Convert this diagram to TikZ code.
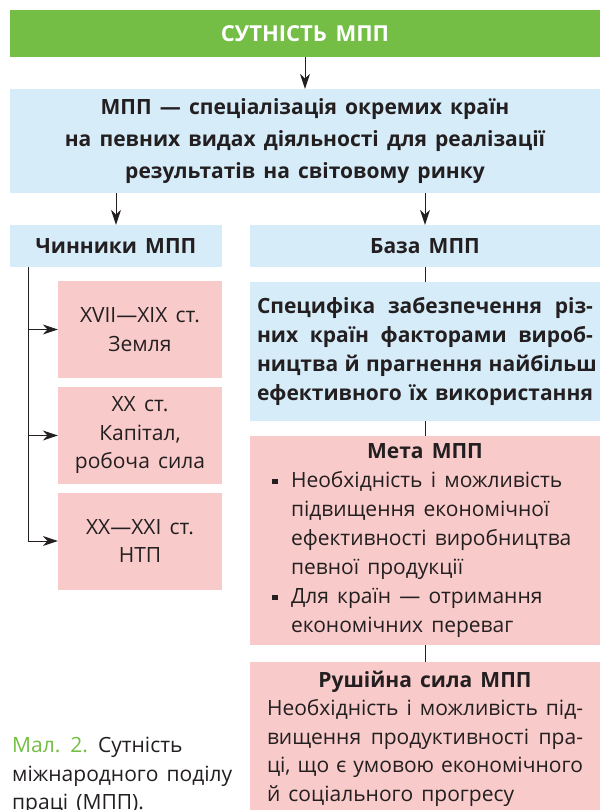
\documentclass[tikz,border=0pt]{standalone}
\usepackage{fontspec}
\setmainfont{Open Sans}[WordSpace={1.5,1.2,1}]
\usepackage{xcolor}
\usepackage{tikz}
\usetikzlibrary{positioning,calc,arrows.meta}

\definecolor{mppgreen}{RGB}{116,190,70}
\definecolor{mppblue}{RGB}{214,236,249}
\definecolor{mpppink}{RGB}{249,202,202}
\definecolor{mppdark}{RGB}{35,31,32}

\newcommand{\mppbul}{\rule[3pt]{5.5pt}{5.5pt}}
\newlength{\listw}\setlength{\listw}{306pt}
\newcommand{\itemline}[1]{\makebox[\listw][l]{\makebox[19pt][l]{\mppbul}#1}}
\newcommand{\contline}[1]{\makebox[\listw][l]{\hspace*{19pt}#1}}
\newcommand{\jline}[2]{\makebox[#1][s]{#2}}

\begin{document}
\begin{tikzpicture}[
						x=1pt, y=-1pt,
						every node/.style={inner sep=0pt, text=mppdark},
						base/.style={font=\fontsize{21}{28.5}\selectfont},
						head/.style={               % Tiêu đề xanh lá
							fill=mppgreen, text=white,
							minimum width=590, minimum height=47,
							font=\bfseries\fontsize{22}{28}\selectfont
						},
						bluebox/.style={
							base, fill=mppblue, align=center
						},
						pinkbox/.style={
							base, fill=mpppink, align=center
						},
						factor/.style={
							pinkbox, minimum width=164, minimum height=97
						},
						arr/.style={                 % Mũi tên đen
							-{Stealth[length=15pt,width=10pt]},
							draw=mppdark, line width=0.9pt
						},
						link/.style={draw=mppdark, line width=0.9pt}
						]
						\useasboundingbox (0,0) rectangle (600,810);
						
						% --- TIÊU ĐỀ ---
						\node[head] (title) at (305,33.5) {СУТНІСТЬ МПП};
						
						\node[bluebox, minimum width=590, minimum height=104,
						font=\bfseries\fontsize{21}{32}\selectfont] (def) at (305,141)
						{МПП — спеціалізація окремих країн\\
							на певних видах діяльності для реалізації\\
							результатів на світовому ринку};
						\draw[arr] (title) -- (def);
						
						% --- HAI NHÁNH ---
						\node[bluebox, font=\bfseries\fontsize{21}{28.5}\selectfont,
						minimum width=212, minimum height=42] (chyn) at (116,246) {Чинники МПП};
						\node[bluebox, font=\bfseries\fontsize{21}{28.5}\selectfont,
						minimum width=350, minimum height=42] (baza) at (425,246) {База МПП};
						\draw[arr] (def.south -| chyn.north) -- (chyn.north);
						\draw[arr] (def.south -| baza.north) -- (baza.north);
						
						% --- CỘT TRÁI: Chinnyky ---
						\foreach \txt/\yc [count=\i] in {{XVII—XIX ст.\\Земля}/329.5,
							{XX ст.\\Капітал,\\робоча сила}/435.5,
							{XX—XXI ст.\\НТП}/541} {
							\node[factor] (f\i) at (140,\yc) {\txt};
						}
						\coordinate (spine) at (28,267);
						\draw[link] (chyn.south -| spine) -- (spine |- f3.west);
						\foreach \i in {1,2,3} {
							\draw[arr] (spine |- f\i.west) -- (f\i.west);
						}
						
						% --- CỘT PHẢI: Baza -> Meta -> Rushiina syla ---
						\node[bluebox, font=\bfseries\fontsize{21}{29}\selectfont,
						minimum width=350, minimum height=139] (spec) at (425,351.5)
						{\jline{336pt}{Специфіка забезпечення різ-}\\
							\jline{336pt}{них країн факторами вироб-}\\
							\jline{336pt}{ництва й прагнення найбільш}\\
							\jline{336pt}{ефективного їх використання}};
						
						\node[pinkbox, font=\fontsize{21}{29}\selectfont,
						minimum width=350, minimum height=209] (meta) at (425,540.5)
						{\textbf{Мета МПП}\\
							\itemline{Необхідність і можливість}\\
							\contline{підвищення економічної}\\
							\contline{ефективності виробництва}\\
							\contline{певної продукції}\\
							\itemline{Для країн — отримання}\\
							\contline{економічних переваг}};
						
						\node[pinkbox, align=left,
						minimum width=350, minimum height=153] (rush) at (425,738.5)
						{\makebox[316pt]{\textbf{Рушійна сила МПП}}\\
							\jline{316pt}{Необхідність і можливість під-}\\
							\jline{316pt}{вищення продуктивності пра-}\\
							\jline{316pt}{ці, що є умовою економічного}\\
							\makebox[316pt][l]{й соціального прогресу}};
						
						\draw[link] (baza) -- (spec);
						\draw[link] (spec) -- (meta);
						\draw[link] (meta) -- (rush);
						
						% --- CHÚ THÍCH ---
						\node[base, align=left, anchor=west] (cap) at (12,776)
						{\textcolor{mppgreen}{Мал. 2.} Сутність\\
							міжнародного поділу\\
							праці (МПП).};
						
					\end{tikzpicture}
\end{document}
